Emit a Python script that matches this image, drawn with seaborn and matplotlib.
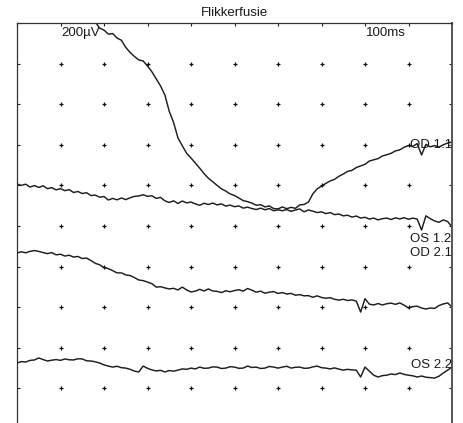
import numpy as np
import pandas as pd
import matplotlib
matplotlib.use("Agg")
import matplotlib.pyplot as plt
import seaborn as sns

# Flicker-fusion ERG recordings: amplitude (µV) sampled every 1 ms, stacked traces
t_ms = list(range(0, 101))

od11_uv = [215, 214, 214, 213, 213, 212, 212, 211, 211, 210,
           210, 209, 208, 207, 206, 205, 204, 203, 200.5, 197.5,
           196.5, 194.5, 194.8, 192.6, 191.5, 188.0, 185.5, 183.5, 181.8, 181.3,
           178.8, 176.0, 172.5, 169.0, 164.5, 156.5, 151.0, 143.4, 139.5, 135.8,
           133.5, 131.0, 128.5, 125.8, 123.5, 121.8, 120.0, 118.3, 117.2, 115.8,
           115.0, 113.8, 112.5, 112.0, 111.3, 110.2, 110.5, 109.4, 109.9, 108.6,
           108.4, 109.4, 108.5, 109.2, 108.7, 110.4, 110.6, 111.8, 115.8, 118.3,
           119.6, 121.0, 122.2, 123.0, 124.5, 125.6, 126.9, 127.4, 128.8, 129.6,
           130.4, 132.0, 132.6, 133.2, 134.5, 135.1, 135.8, 137.0, 137.5, 138.8,
           139.6, 139.2, 140.6, 135.0, 140.2, 139.0, 139.6, 138.9, 140.0, 140.9,
           141.4]

os12_uv = [120.7, 120.0, 120.6, 119.2, 119.9, 119.0, 119.8, 118.4, 118.9, 117.8,
           118.4, 117.4, 117.9, 116.5, 117.0, 116.0, 116.4, 115.0, 115.2, 114.2,
           114.5, 112.8, 113.6, 112.9, 113.8, 113.0, 113.9, 114.6, 114.8, 115.4,
           114.6, 114.9, 113.6, 114.1, 112.4, 111.6, 112.4, 111.1, 112.3, 111.4,
           111.8, 110.9, 110.2, 111.2, 110.6, 111.3, 110.4, 110.9, 109.8, 110.3,
           109.5, 109.9, 108.8, 109.3, 108.6, 108.1, 108.8, 108.0, 108.6, 107.5,
           108.0, 107.5, 108.1, 107.2, 107.9, 108.4, 107.0, 107.9, 107.3, 106.6,
           107.0, 106.1, 106.6, 105.6, 105.9, 105.0, 105.3, 104.4, 104.9, 103.9,
           104.3, 103.4, 103.9, 103.0, 103.6, 103.9, 103.2, 104.0, 103.5, 104.1,
           103.3, 103.9, 103.4, 98.0, 105.0, 103.6, 102.5, 101.8, 103.0, 102.2,
           99.5]

od21_uv = [86.7, 87.3, 86.8, 87.5, 87.9, 87.5, 86.9, 86.4, 86.9, 85.8,
           86.1, 85.2, 85.6, 84.7, 85.0, 84.0, 84.2, 83.0, 81.6, 80.9,
           79.5, 79.0, 78.0, 76.9, 76.9, 75.9, 75.6, 74.6, 73.4, 73.1,
           72.4, 71.6, 69.9, 70.1, 69.5, 69.0, 69.3, 68.5, 69.9, 68.5,
           67.5, 67.9, 68.8, 68.0, 69.0, 68.0, 67.8, 67.2, 68.1, 67.6,
           68.2, 68.6, 67.9, 69.2, 68.4, 67.4, 67.9, 66.9, 67.4, 67.7,
           66.8, 67.2, 66.5, 66.8, 65.9, 66.2, 65.6, 65.7, 64.9, 65.6,
           64.8, 64.4, 64.7, 63.9, 63.5, 63.9, 63.3, 63.6, 63.0, 57.6,
           64.2, 61.5, 61.1, 61.8, 61.1, 61.7, 62.0, 61.4, 62.1, 61.0,
           59.6, 60.3, 60.5, 59.6, 59.1, 59.6, 59.4, 60.8, 61.6, 62.1,
           60.1]

os22_uv = [32.5, 33.2, 33.0, 33.8, 34.0, 35.0, 34.2, 33.5, 33.9, 34.2,
           33.8, 34.5, 34.1, 34.0, 34.6, 34.5, 33.6, 33.5, 33.1, 32.5,
           31.6, 31.0, 30.5, 30.9, 30.2, 30.0, 29.4, 28.5, 28.1, 31.0,
           29.9, 29.1, 28.6, 28.9, 28.1, 28.8, 28.5, 29.0, 29.6, 29.4,
           30.0, 29.6, 30.5, 29.9, 30.0, 30.6, 30.5, 29.8, 30.0, 30.7,
           30.5, 29.9, 30.0, 31.0, 30.3, 30.5, 29.8, 30.0, 30.8, 30.5,
           30.0, 30.5, 30.9, 30.0, 30.4, 30.5, 29.9, 30.0, 30.6, 31.0,
           30.2, 30.0, 29.6, 30.1, 29.5, 29.0, 29.4, 29.1, 29.0, 25.6,
           30.5, 28.5, 26.5, 25.6, 26.3, 26.5, 27.1, 26.8, 27.6, 26.9,
           26.5, 26.2, 25.6, 26.1, 25.5, 25.3, 25.1, 26.0, 27.6, 29.0,
           30.5]

trace_names = ["OD 1.1", "OS 1.2", "OD 2.1", "OS 2.2"]
label_ms = [90.3, 90.3, 90.3, 90.5]
label_uv = [139.7, 93.6, 86.7, 31.5]

title = "Flikkerfusie"
scale_labels = ["200µV", "100ms"]
scale_ms = [10.1, 80.2]
scale_uv = [195.0, 195.0]

frames = []
for name, ys in zip(trace_names, [od11_uv, os12_uv, od21_uv, os22_uv]):
    frames.append(pd.DataFrame({"ms": t_ms, "uV": ys, "trace": name}))
df = pd.concat(frames, ignore_index=True)

sns.set_style("white")
plt.rcParams["font.family"] = ["Liberation Sans", "DejaVu Sans"]

fig = plt.figure(figsize=(4.63, 4.23), dpi=100)
ax = fig.add_axes([17 / 463, 1 - 429 / 423, 435 / 463, 406 / 423])

sns.lineplot(data=df, x="ms", y="uV", units="trace", estimator=None, sort=False,
             color="#1e1e1e", linewidth=1.05, ax=ax, legend=False)

ax.set_xlim(0, 100)
ax.set_ylim(0, 200)
xt = np.arange(0, 101, 10)
yt = np.arange(0, 201, 20)
ax.set_xticks(xt)
ax.set_yticks(yt)
ax.tick_params(which="both", direction="in", length=2.5, width=0.8, color="#222222",
               left=True, right=True, top=True, bottom=True,
               labelleft=False, labelbottom=False)
ax.set_xlabel("")
ax.set_ylabel("")

# "+" markers at the interior grid intersections
gx, gy = np.meshgrid(xt[1:-1], yt[1:-1])
ax.scatter(gx.ravel(), gy.ravel(), marker="+", s=9, linewidths=0.9,
           color="#111111", zorder=3)

for sp in ax.spines.values():
    sp.set_color("#333333")
    sp.set_linewidth(0.9)
ax.spines["right"].set_linewidth(1.4)
ax.spines["right"].set_color("#555555")

for name, lx, ly in zip(trace_names, label_ms, label_uv):
    ax.text(lx, ly, name, fontsize=9.5, color="#1a1a1a", ha="left", va="center",
            clip_on=True, zorder=4)
for s, lx, ly in zip(scale_labels, scale_ms, scale_uv):
    ax.text(lx, ly, s, fontsize=9.5, color="#1a1a1a", ha="left", va="center", zorder=4)

fig.text(234.5 / 463, 1 - 12.5 / 423, title, fontsize=9.5, color="#1a1a1a",
         ha="center", va="center")

fig.savefig("out.png", dpi=100)
